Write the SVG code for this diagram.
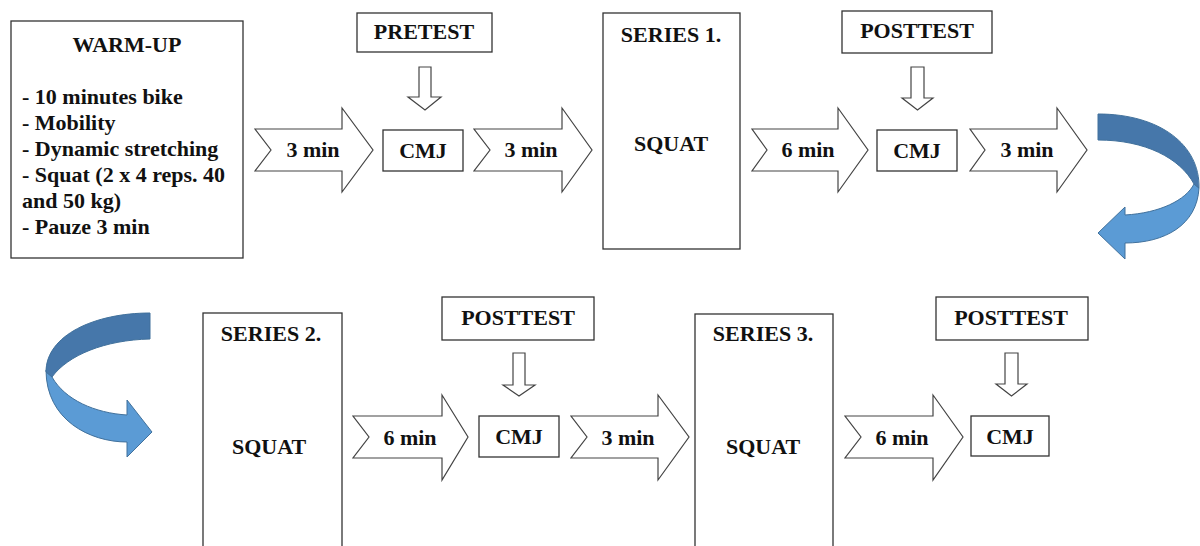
<svg xmlns="http://www.w3.org/2000/svg" width="1200" height="546" viewBox="0 0 1200 546">
<style>
.box{fill:#fff;stroke:#333;stroke-width:1.3}
.arr{fill:#fff;stroke:#444;stroke-width:1.2;stroke-linejoin:miter}
.t{font-family:"Liberation Serif","Times New Roman",serif;font-weight:bold;font-size:22px;fill:#111}
.c{text-anchor:middle}
.dark{fill:#4677AA;stroke:#41719C;stroke-width:1}
.light{fill:#5B9BD5;stroke:#41719C;stroke-width:1}
</style>
<rect width="1200" height="546" fill="#fff"/>

<g id="warmup">
<rect class="box" x="11" y="21" width="232" height="237"/>
<text class="t c" x="127" y="52">WARM-UP</text>
<text class="t" x="22" y="104">- 10 minutes bike</text>
<text class="t" x="22" y="130">- Mobility</text>
<text class="t" x="22" y="156">- Dynamic stretching</text>
<text class="t" x="22" y="182">- Squat (2 x 4 reps. 40</text>
<text class="t" x="22" y="208">and 50 kg)</text>
<text class="t" x="22" y="234">- Pauze 3 min</text>
</g>

<g id="connectors">
<g id="chev1"><path class="arr" d="M255,129 L342,129 L342,108 L373,150 L342,192 L342,171 L255,171 L271,150 Z"/><text class="t c" x="313" y="157">3 min</text></g>
<g id="chev2"><path class="arr" d="M474,129 L562,129 L562,108 L592,150 L562,192 L562,171 L474,171 L490,150 Z"/><text class="t c" x="531" y="157">3 min</text></g>
<g id="chev3"><path class="arr" d="M752,129 L838,129 L838,108 L868,150 L838,192 L838,171 L752,171 L767,150 Z"/><text class="t c" x="808" y="157">6 min</text></g>
<g id="chev4"><path class="arr" d="M970,129 L1057,129 L1057,108 L1087,150 L1057,192 L1057,171 L970,171 L985,150 Z"/><text class="t c" x="1027" y="157">3 min</text></g>
<g id="chev5"><path class="arr" d="M353,416 L442,416 L442,395 L468,437 L442,480 L442,458 L353,458 L369,437 Z"/><text class="t c" x="410" y="445">6 min</text></g>
<g id="chev6"><path class="arr" d="M571,416 L658,416 L658,395 L689,437 L658,480 L658,458 L571,458 L587,437 Z"/><text class="t c" x="628" y="445">3 min</text></g>
<g id="chev7"><path class="arr" d="M845,416 L933,416 L933,395 L963,437 L933,480 L933,458 L845,458 L861,437 Z"/><text class="t c" x="902" y="445">6 min</text></g>
<path class="arr" d="M419,67 L431,67 L431,97 L441,97 L425,110 L408,97 L419,97 Z"/>
<path class="arr" d="M911,67 L924,67 L924,98 L933,98 L917.5,110 L902,98 L911,98 Z"/>
<path class="arr" d="M513,353 L525,353 L525,385 L535,385 L519,396 L503,385 L513,385 Z"/>
<path class="arr" d="M1005,353 L1018,353 L1018,384 L1027,384 L1011.5,396 L996,384 L1005,384 Z"/>
<g id="curve-right">
<path class="light" d="M1194,184 L1199,188 C1197,225 1165,243 1125,243 L1125,259 L1098,233 L1125,207 L1125,215 C1160,213 1186,200 1194,184 Z"/>
<path class="dark" d="M1098,114 C1160,114 1200,145 1199,188 L1194,184 C1180,158 1145,140 1098,140 Z"/>
</g>
<g id="curve-left">
<path class="light" d="M46,370 C46,420 90,442 127,442 L127,457 L152,432 L127,400 L127,415 C95,413 65,400 52,377 Z"/>
<path class="dark" d="M150,313 L150,339 C105,340 68,355 52,377 L46,372 C46,335 95,313 150,313 Z"/>
</g>
</g>

<g id="pretest"><rect class="box" x="357" y="13" width="135" height="39"/><text class="t c" x="424" y="39">PRETEST</text></g>
<g id="cmj1"><rect class="box" x="383" y="130" width="80" height="41"/><text class="t c" x="423" y="158">CMJ</text></g>
<g id="series1"><rect class="box" x="603" y="13" width="137" height="236"/><text class="t c" x="671" y="42">SERIES 1.</text><text class="t c" x="671" y="151">SQUAT</text></g>
<g id="posttest1"><rect class="box" x="842" y="11" width="150" height="42"/><text class="t c" x="917" y="38">POSTTEST</text></g>
<g id="cmj2"><rect class="box" x="877" y="130" width="80" height="41"/><text class="t c" x="917" y="158">CMJ</text></g>

<g id="series2"><rect class="box" x="203" y="313" width="139" height="240"/><text class="t c" x="271" y="341">SERIES 2.</text><text class="t c" x="269" y="454">SQUAT</text></g>
<g id="posttest2"><rect class="box" x="442" y="297" width="152" height="43"/><text class="t c" x="518" y="325">POSTTEST</text></g>
<g id="cmj3"><rect class="box" x="479" y="416" width="80" height="41"/><text class="t c" x="519" y="444">CMJ</text></g>
<g id="series3"><rect class="box" x="695" y="314" width="138" height="240"/><text class="t c" x="763" y="341">SERIES 3.</text><text class="t c" x="763" y="454">SQUAT</text></g>
<g id="posttest3"><rect class="box" x="936" y="297" width="152" height="43"/><text class="t c" x="1011" y="325">POSTTEST</text></g>
<g id="cmj4"><rect class="box" x="971" y="416" width="78" height="40"/><text class="t c" x="1010" y="444">CMJ</text></g>
</svg>
